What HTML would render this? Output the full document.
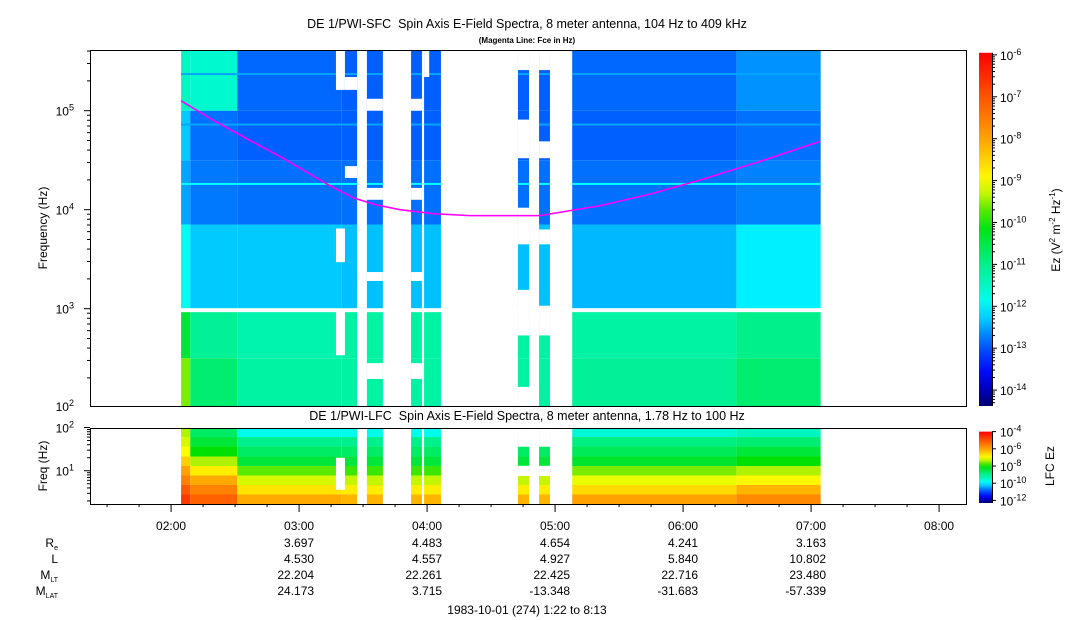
<!DOCTYPE html>
<html><head><meta charset="utf-8">
<style>
html,body{margin:0;padding:0;background:#fff;}
svg{display:block;font-family:"Liberation Sans",Arial,sans-serif;}
</style></head>
<body>
<svg id="chart" width="1083" height="620" viewBox="0 0 1083 620" xmlns="http://www.w3.org/2000/svg">
<text x="527" y="28" font-size="12.5" text-anchor="middle">DE 1/PWI-SFC&#160; Spin Axis E-Field Spectra, 8 meter antenna, 104 Hz to 409 kHz</text>
<text x="527" y="43" font-size="8" font-weight="bold" text-anchor="middle">(Magenta Line: Fce in Hz)</text>
<text x="527" y="420" font-size="12.5" text-anchor="middle">DE 1/PWI-LFC&#160; Spin Axis E-Field Spectra, 8 meter antenna, 1.78 Hz to 100 Hz</text>
<g id="sfc"></g>
<g id="lfc"></g>
<g id="axes"></g>
<text transform="translate(47,228) rotate(-90)" font-size="12" text-anchor="middle">Frequency (Hz)</text>
<text transform="translate(47,466) rotate(-90)" font-size="12" text-anchor="middle">Freq (Hz)</text>
<text transform="translate(1060,230) rotate(-90)" font-size="12" text-anchor="middle">Ez (V<tspan font-size="8" dy="-5">2</tspan><tspan dy="5"> m</tspan><tspan font-size="8" dy="-5">-2</tspan><tspan dy="5"> Hz</tspan><tspan font-size="8" dy="-5">-1</tspan><tspan dy="5">)</tspan></text>
<text transform="translate(1054,466) rotate(-90)" font-size="12" text-anchor="middle">LFC Ez</text>
<g font-size="12" text-anchor="end">
<text x="58" y="547">R<tspan font-size="7" dy="3">e</tspan></text>
<text x="58" y="563">L</text>
<text x="58" y="579">M<tspan font-size="7" dy="3">LT</tspan></text>
<text x="58" y="595">M<tspan font-size="7" dy="3">LAT</tspan></text>
</g>
<text x="527" y="614" font-size="12" text-anchor="middle">1983-10-01 (274) 1:22 to 8:13</text>
</svg>
<script>
// ---- data ----
const blockEdges = [124.7, 129, 151, 200, 308, 385, 424.5]; // minutes since 00:00
const sfcBandEdges = [2.0, 2.5, 3.0, 3.85, 4.5, 5.0, 5.62]; // log10 Hz
const sfcVals = [
  [-9.6, -10.4, -11.9, -12.5, -12.3, -11.5],
  [-10.8, -11.1, -12.3, -12.75, -12.8, -11.6],
  [-11.2, -11.3, -12.3, -12.8, -12.9, -12.85],
  [-11.2, -11.2, -12.35, -12.8, -12.9, -12.9],
  [-11.1, -11.2, -12.4, -12.8, -12.9, -12.85],
  [-10.8, -11.0, -12.1, -12.7, -12.8, -12.6]
];
const sfcLines = [4.26, 5.37, 4.86]; // bright horizontal lines (log10 Hz)
const sfcLineVals = [-12.0, -12.5, -12.5];
const lfcRowEdges = [0.23, 0.45, 0.67, 0.89, 1.11, 1.33, 1.56, 1.78, 2.02];
const lfcVals = [ // per block, bottom row -> top row
  [-4.7, -5.1, -5.6, -6.0, -6.5, -7.0, -7.2, -7.4],
  [-5.2, -5.6, -6.1, -6.8, -7.4, -8.0, -8.4, -8.7],
  [-6.1, -6.7, -7.2, -7.7, -8.4, -8.7, -9.0, -9.8],
  [-6.2, -6.8, -7.3, -7.8, -8.4, -8.7, -9.0, -9.8],
  [-6.0, -6.6, -7.1, -7.6, -8.3, -8.6, -8.9, -9.6],
  [-5.7, -6.2, -6.9, -7.4, -8.0, -8.4, -8.8, -9.4]
];
const fullGaps = [[207.2,211.8],[219.3,232.5],[237.6,238.6],[246.5,282.6],[287.8,292.5],[297.6,308]];
const sfcGaps = [
  [197.3,201.5,5.21,5.7],[197.3,201.5,3.47,3.81],[197.3,201.5,2.53,2.97],
  [201.5,207.2,5.21,5.34],[201.5,207.2,4.32,4.44],
  [211.8,219.3,5.0,5.12],[211.8,219.3,4.1,4.22],[211.8,219.3,3.28,3.37],[211.8,219.3,2.29,2.45],
  [232.5,237.6,5.0,5.12],[232.5,237.6,4.1,4.22],[232.5,237.6,3.28,3.37],[232.5,237.6,2.29,2.45],
  [238.6,241,5.34,5.7],
  [282.6,287.8,5.41,5.7],[282.6,287.8,4.52,4.91],[282.6,287.8,3.65,4.02],[282.6,287.8,2.73,3.19],[282.6,287.8,1.9,2.21],
  [292.5,297.6,5.41,5.7],[292.5,297.6,4.52,4.69],[292.5,297.6,3.65,3.80],[292.5,297.6,2.73,3.03]
];
const lfcGaps = [[197.3,201.5,0.56,1.3],[282.6,287.8,1.556,2.1],[282.6,287.8,0.88,1.114],[292.5,297.6,1.556,2.1],[292.5,297.6,0.88,1.114]];
const fceTimes = [124.7, 140, 157, 170, 180.4, 193, 205.3, 216, 227.3, 243, 260, 293, 321, 345, 368, 395, 424.2];
const fceLogHz = [5.10, 4.90, 4.70, 4.55, 4.42, 4.26, 4.12, 4.05, 4.0, 3.96, 3.94, 3.94, 4.04, 4.16, 4.30, 4.48, 4.69];
const hourTicks = ["02:00","03:00","04:00","05:00","06:00","07:00","08:00"];
const ephRe = ["","3.697","4.483","4.654","4.241","3.163",""];
const ephL = ["","4.530","4.557","4.927","5.840","10.802",""];
const ephMLT = ["","22.204","22.261","22.425","22.716","23.480",""];
const ephMLAT = ["","24.173","3.715","-13.348","-31.683","-57.339",""];
const cbTicks = [-6,-7,-8,-9,-10,-11,-12,-13,-14];
const lfcCbTicks = [-4,-6,-8,-10,-12];

// ---- scales ----
const NS="http://www.w3.org/2000/svg";
const X0=90, X1=967;
const xs = m => X0 + (m-82)*128/60;
const ys = lf => 406 - (lf-2.017)*99;
const yl = lf => 504 - (lf-0.23)*43.2;
const cbY = v => 406 - (v+14.38)*41.9;
const lcbY = v => 503 - (v+12.3)*8.6;
const stops=[[0,[0,0,110]],[0.09,[0,0,255]],[0.165,[0,80,255]],[0.22,[0,160,255]],[0.28,[0,255,255]],[0.40,[0,240,140]],[0.52,[0,224,0]],[0.58,[160,240,0]],[0.64,[255,255,0]],[0.76,[255,160,0]],[0.88,[255,80,0]],[1,[255,0,0]]];
function cmap(f){f=Math.max(0,Math.min(1,f));for(let i=1;i<stops.length;i++){if(f<=stops[i][0]){const a=stops[i-1],b=stops[i],t=(f-a[0])/(b[0]-a[0]);const c=a[1].map((v,k)=>Math.round(v+(b[1][k]-v)*t));return `rgb(${c})`;}}return 'rgb(255,0,0)';}
const sfcColor = v => cmap((v+14.38)/8.43);
const lfcColor = v => cmap((v+12.3)/8.3);
function el(tag, attrs, parent){const e=document.createElementNS(NS,tag);for(const k in attrs)e.setAttribute(k,attrs[k]);parent.appendChild(e);return e;}

// ---- SFC ----
const sfc=document.getElementById('sfc');
for(let b=0;b<sfcVals.length;b++){for(let k=0;k<sfcVals[b].length;k++){
  const y0=Math.max(50,ys(Math.min(sfcBandEdges[k+1],5.61))), y1=Math.min(ys(sfcBandEdges[k]),406);
  const r=el('rect',{x:xs(blockEdges[b]),y:y0,width:xs(blockEdges[b+1])-xs(blockEdges[b]),height:y1-y0,fill:sfcColor(sfcVals[b][k])},sfc);
  
  
}}
sfcLines.forEach((lf,i)=>{const r=el('rect',{x:xs(blockEdges[0]),y:ys(lf)-1,width:xs(blockEdges[blockEdges.length-1])-xs(blockEdges[0]),height:2,fill:sfcColor(sfcLineVals[i])},sfc);
  
  });
fullGaps.forEach(g=>{const r=el('rect',{x:xs(g[0]),y:50,width:xs(g[1])-xs(g[0]),height:356,fill:'#fff'},sfc);
  
  });
sfcGaps.forEach(g=>{const y0=Math.max(50,ys(g[3])),y1=Math.min(406,ys(g[2]));const r=el('rect',{x:xs(g[0]),y:y0,width:xs(g[1])-xs(g[0]),height:y1-y0,fill:'#fff'},sfc);
  
  });
{const r=el('rect',{x:X0,y:ys(3.005),width:X1-X0,height:ys(2.965)-ys(3.005),fill:'#fff'},sfc);
 
 }
{const pts=fceTimes.map((t,i)=>xs(t)+','+ys(fceLogHz[i])).join(' ');
 const p=el('polyline',{points:pts,fill:'none',stroke:'#ff00ff','stroke-width':1.6},sfc);
 
 }

// ---- LFC ----
const lfc=document.getElementById('lfc');
for(let b=0;b<lfcVals.length;b++){for(let k=0;k<lfcVals[b].length;k++){
  const y0=Math.max(428,yl(lfcRowEdges[k+1])), y1=Math.min(504,yl(lfcRowEdges[k]));
  const r=el('rect',{x:xs(blockEdges[b]),y:y0,width:xs(blockEdges[b+1])-xs(blockEdges[b]),height:y1-y0,fill:lfcColor(lfcVals[b][k])},lfc);
  
  
}}
fullGaps.forEach(g=>{const r=el('rect',{x:xs(g[0]),y:428,width:xs(g[1])-xs(g[0]),height:76,fill:'#fff'},lfc);
  
  });
lfcGaps.forEach(g=>{const y0=Math.max(428,yl(g[3])),y1=Math.min(504,yl(g[2]));const r=el('rect',{x:xs(g[0]),y:y0,width:xs(g[1])-xs(g[0]),height:y1-y0,fill:'#fff'},lfc);
  
  });

// ---- axes ----
const ax=document.getElementById('axes');
function line(x1,y1,x2,y2,name){const l=el('line',{x1,y1,x2,y2,stroke:'#000','stroke-width':1},ax);
  
  }
function txt(x,y,s,anchor,size,name,sup){const t=el('text',{x,y,'font-size':size||12,'text-anchor':anchor||'middle'},ax);
  
  
  t.textContent=s; if(sup!==undefined){const ts=el('tspan',{'font-size':9,dy:-5},t);ts.textContent=sup;} return t;}
[[90,50,876,356,'sfc-plot-frame'],[90,428,876,76,'lfc-plot-frame']].forEach(f=>{const r=el('rect',{x:f[0]+0.5,y:f[1]+0.5,width:f[2],height:f[3],fill:'none',stroke:'#000','stroke-width':1},ax);
  
  });
for(let d=2;d<=5;d++){for(let m=1;m<10;m++){const lf=d+Math.log10(m);if(lf<2.017||lf>5.61)continue;const y=ys(lf);line(90-(m===1?6:3),y,90,y,'y-tick');}
  txt(74,ys(Math.max(d,2.017))+5,'10','end',12,'y-tick-label',String(d));}
for(let d=0;d<=2;d++){for(let m=1;m<10;m++){const lf=d+Math.log10(m);if(lf<0.23||lf>2.0)continue;const y=yl(lf);line(90-(m===1?6:3),y,90,y,'lfc-y-tick');}}
txt(74,yl(2.0)+5,'10','end',12,'lfc-y-tick-label','2');
txt(74,yl(1)+5,'10','end',12,'lfc-y-tick-label','1');
for(let m=90;m<=490;m+=15){const x=xs(m);const major=m%60===0;line(x,504,x,504+(major?8:3),'x-tick');}
hourTicks.forEach((h,i)=>{const x=xs(120+60*i);
  txt(x+15,530,h,'end',12,'x-tick-label');
  [[ephRe,547],[ephL,563],[ephMLT,579],[ephMLAT,595]].forEach(r=>{if(r[0][i])txt(x+15,r[1],r[0][i],'end',12,'ephemeris-value');});
});
const grad=el('linearGradient',{id:'cbg',x1:0,y1:1,x2:0,y2:0},el('defs',{},ax));
for(let i=0;i<=20;i++){el('stop',{offset:i/20,'stop-color':cmap(i/20)},grad);}
{const r=el('rect',{x:979,y:cbY(-5.95),width:13,height:cbY(-14.38)-cbY(-5.95),fill:'url(#cbg)'},ax);
 
 }
{const r=el('rect',{x:979,y:lcbY(-4),width:13,height:lcbY(-12.3)-lcbY(-4),fill:'url(#cbg)'},ax);
 
 }
line(992.5,cbY(-5.95),992.5,cbY(-14.38),'colorbar-axis');
line(992.5,lcbY(-4),992.5,lcbY(-12.3),'lfc-colorbar-axis');
cbTicks.forEach(v=>{const y=cbY(v);line(992,y,997,y,'colorbar-tick');for(let m=2;m<10;m++){const yy=cbY(v-1+Math.log10(m));if(yy<406&&yy>52)line(992,yy,995,yy,'colorbar-minor-tick');}
  txt(1000,y+5,'10','start',12,'colorbar-tick-label',String(v));});
lfcCbTicks.forEach(v=>{const y=lcbY(v);line(992,y,996,y,'lfc-colorbar-tick');txt(1000,y+5,'10','start',12,'lfc-colorbar-tick-label',String(v));});
</script>
</body></html>
